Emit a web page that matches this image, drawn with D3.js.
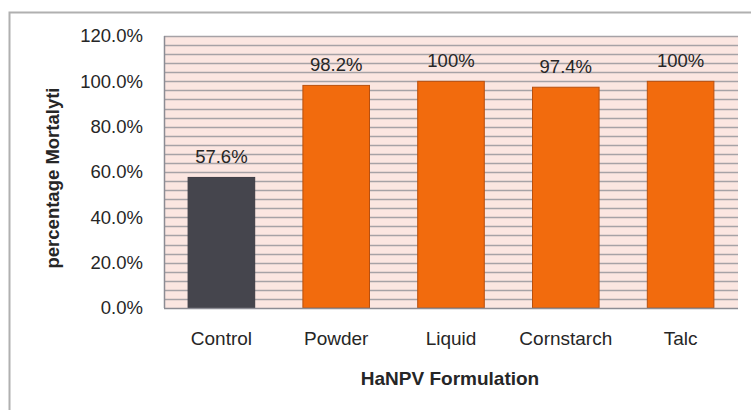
<!DOCTYPE html>
<html>
<head>
<meta charset="utf-8">
<script src="https://cdn.jsdelivr.net/npm/d3@7"></script>
<style>
  body { margin: 0; background: #fff; }
  svg text { font-family: "Liberation Sans", Arial, sans-serif; fill: #262626; }
</style>
</head>
<body>
<div id="chart"></div>
<script>
// Data
const categories = ['Control', 'Powder', 'Liquid', 'Cornstarch', 'Talc'];
const mortality = [57.6, 98.2, 100, 97.4, 100];
const valueLabels = ['57.6%', '98.2%', '100%', '97.4%', '100%'];
const yTicks = [0, 20, 40, 60, 80, 100, 120];

const width = 751, height = 410;
const plot = { left: 164, right: 738, top: 36, bottom: 308 };

const svg = d3.select('#chart').append('svg')
    .attr('width', width)
    .attr('height', height);

// outer chart frame (only left and top edges fall inside the picture)
svg.append('rect')
    .attr('x', 9.5).attr('y', 12.5)
    .attr('width', 760).attr('height', 420)
    .attr('fill', 'none')
    .attr('stroke', '#b0b0b0')
    .attr('stroke-width', 2);

const x = d3.scaleBand()
    .domain(categories)
    .range([plot.left, plot.right])
    .paddingInner(0.42)
    .paddingOuter(0.21);

const y = d3.scaleLinear()
    .domain([0, 120])
    .range([plot.bottom, plot.top]);

// plot background
svg.append('rect')
    .attr('x', plot.left).attr('y', plot.top)
    .attr('width', plot.right - plot.left)
    .attr('height', plot.bottom - plot.top)
    .attr('fill', '#fbe6e1');

// minor gridlines every 4%
svg.append('g')
    .selectAll('line')
    .data(d3.range(4, 121, 4))
    .enter().append('line')
    .attr('x1', plot.left).attr('x2', plot.right)
    .attr('y1', d => Math.round(y(d)) + 0.5)
    .attr('y2', d => Math.round(y(d)) + 0.5)
    .attr('stroke', '#a6a2a6')
    .attr('stroke-width', 1.6);

// bars
svg.append('g')
    .selectAll('rect')
    .data(categories)
    .enter().append('rect')
    .attr('x', d => x(d))
    .attr('y', (d, i) => y(mortality[i]))
    .attr('width', x.bandwidth())
    .attr('height', (d, i) => plot.bottom - y(mortality[i]))
    .attr('fill', (d, i) => i === 0 ? '#45454d' : '#f26b0d')
    .attr('stroke', (d, i) => i === 0 ? '#3c3c44' : '#b8500f')
    .attr('stroke-width', 1);

// value labels
svg.append('g')
    .selectAll('text')
    .data(categories)
    .enter().append('text')
    .attr('x', d => x(d) + x.bandwidth() / 2)
    .attr('y', (d, i) => y(mortality[i]) - 14)
    .attr('text-anchor', 'middle')
    .style('font-size', '18.5px')
    .text((d, i) => valueLabels[i]);

// axis lines
svg.append('line')
    .attr('x1', plot.left + 0.5).attr('x2', plot.left + 0.5)
    .attr('y1', plot.top).attr('y2', plot.bottom)
    .attr('stroke', '#8c8c94').attr('stroke-width', 1.5);
svg.append('line')
    .attr('x1', plot.left).attr('x2', plot.right)
    .attr('y1', plot.bottom + 0.5).attr('y2', plot.bottom + 0.5)
    .attr('stroke', '#8c8c94').attr('stroke-width', 1.5);

// y axis tick labels
const yAxis = svg.append('g')
    .attr('transform', `translate(${plot.left - 21},0)`)
    .call(d3.axisLeft(y).tickValues(yTicks).tickSize(0).tickFormat(d => d.toFixed(1) + '%'));
yAxis.select('.domain').remove();
yAxis.selectAll('text')
    .attr('x', 0)
    .style('font-size', '18.5px')
    .style('font-family', '"Liberation Sans", Arial, sans-serif')
    .attr('fill', '#262626');

// x axis category labels
const xAxis = svg.append('g')
    .attr('transform', `translate(0,${plot.bottom})`)
    .call(d3.axisBottom(x).tickSize(0));
xAxis.select('.domain').remove();
xAxis.selectAll('text')
    .attr('y', 24)
    .style('font-size', '19px')
    .style('font-family', '"Liberation Sans", Arial, sans-serif')
    .attr('fill', '#262626');

// axis titles
svg.append('text')
    .attr('x', (plot.left + plot.right) / 2 - 1)
    .attr('y', 385)
    .attr('text-anchor', 'middle')
    .style('font-size', '19px')
    .style('font-weight', 'bold')
    .text('HaNPV Formulation');

svg.append('text')
    .attr('transform', 'translate(59,178) rotate(-90)')
    .attr('text-anchor', 'middle')
    .style('font-size', '18.5px')
    .style('font-weight', 'bold')
    .text('percentage Mortalyti');
</script>
</body>
</html>
